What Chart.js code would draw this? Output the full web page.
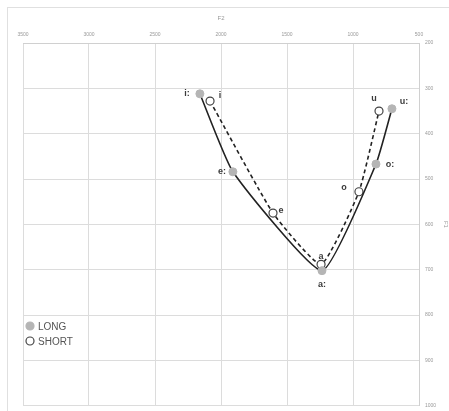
<!DOCTYPE html>
<html>
<head>
<meta charset="utf-8">
<script src="https://cdn.jsdelivr.net/npm/chart.js@4"></script>
<style>
html,body{margin:0;padding:0;background:#fff;}
#wrap{position:relative;width:449px;height:411px;}
</style>
</head>
<body>
<div id="wrap"><canvas id="c" width="449" height="411"></canvas></div>
<script>
// ---- data ----
const vowelsLong = ["i:", "e:", "a:", "o:", "u:"];
const longF2 = [2160, 1910, 1235, 826, 705];
const longF1 = [312, 484, 702, 467, 345];
const vowelsShort = ["i", "e", "a", "o", "u"];
const shortF2 = [2083, 1606, 1242, 955, 803];
const shortF1 = [328, 575, 688, 528, 350];
const f2Ticks = [3500, 3000, 2500, 2000, 1500, 1000, 500];
const f1Ticks = [200, 300, 400, 500, 600, 700, 800, 900, 1000];
const seriesNames = ["LONG", "SHORT"];

// label offsets (style, in px)
const longLabelOffsets = [[-13, 0], [-11, 0], [0, 14], [14, 0], [12, -7]];
const shortLabelOffsets = [[10, -6], [8, -3], [0, -8], [-15, -4], [-5, -13]];

const longPts = longF2.map((v, i) => ({x: v, y: longF1[i]}));
const shortPts = shortF2.map((v, i) => ({x: v, y: shortF1[i]}));

const frame = {
  id: 'frame',
  beforeDraw(chart) {
    const ctx = chart.ctx;
    ctx.save();
    ctx.fillStyle = '#fff';
    ctx.fillRect(0, 0, chart.width, chart.height);
    ctx.strokeStyle = '#e0e0e0';
    ctx.lineWidth = 1;
    ctx.strokeRect(7.5, 7.5, 445, 420);
    ctx.restore();
  }
};

const labels = {
  id: 'labels',
  afterDatasetsDraw(chart) {
    const ctx = chart.ctx;
    ctx.save();
    ctx.font = 'bold 9px "Liberation Sans", Arial, sans-serif';
    ctx.fillStyle = '#3a3a3a';
    ctx.textAlign = 'center';
    ctx.textBaseline = 'middle';
    const sets = [[0, vowelsLong, longLabelOffsets], [1, vowelsShort, shortLabelOffsets]];
    sets.forEach(([di, names, offs]) => {
      chart.getDatasetMeta(di).data.forEach((el, i) => {
        ctx.fillText(names[i], el.x + offs[i][0], el.y + offs[i][1]);
      });
    });
    // legend
    const a = chart.chartArea;
    const lx = a.left + 7, ly = a.top + 283;
    const ds = chart.data.datasets;
    ctx.font = '10px "Liberation Sans", Arial, sans-serif';
    ctx.textAlign = 'left';
    ds.forEach((d, i) => {
      const y = ly + i * 15;
      ctx.beginPath();
      ctx.arc(lx, y, 4, 0, Math.PI * 2);
      ctx.fillStyle = d.pointBackgroundColor;
      ctx.fill();
      ctx.lineWidth = 1.2;
      ctx.strokeStyle = d.pointBorderColor;
      ctx.stroke();
      ctx.fillStyle = '#555';
      ctx.fillText(d.label, lx + 8, y + 1);
    });
    ctx.restore();
  }
};

new Chart(document.getElementById('c'), {
  type: 'scatter',
  data: {
    datasets: [
      {
        label: seriesNames[0],
        data: longPts,
        showLine: true,
        borderColor: '#222',
        borderWidth: 1.6,
        tension: 0.15,
        pointRadius: 4,
        pointBackgroundColor: '#b5b5b5',
        pointBorderColor: '#b5b5b5',
        pointBorderWidth: 1
      },
      {
        label: seriesNames[1],
        data: shortPts,
        showLine: true,
        borderColor: '#222',
        borderWidth: 1.6,
        borderDash: [4, 3],
        tension: 0.15,
        pointRadius: 4,
        pointBackgroundColor: '#ffffff',
        pointBorderColor: '#444444',
        pointBorderWidth: 1.2
      }
    ]
  },
  options: {
    responsive: false,
    animation: false,
    layout: {padding: {left: 23, right: 0, top: 0, bottom: 5}},
    plugins: {legend: {display: false}, tooltip: {enabled: false}},
    scales: {
      x: {
        type: 'linear',
        position: 'top',
        reverse: true,
        min: 500, max: 3500,
        afterBuildTicks(s) { s.ticks = f2Ticks.map(v => ({value: v})); },
        afterFit(s) { s.height = 43; s.paddingLeft = 0; s.paddingRight = 0; },
        grid: {color: '#dcdcdc', drawTicks: false, lineWidth: 1},
        border: {color: '#d0d0d0'},
        ticks: {color: '#999', font: {size: 5, family: 'Liberation Sans'}, padding: 5, maxRotation: 0,
                callback: v => String(v)},
        title: {display: true, text: 'F2', color: '#999', font: {size: 6, family: 'Liberation Sans'}, padding: {top: 15, bottom: 0}}
      },
      y: {
        type: 'linear',
        position: 'right',
        reverse: true,
        min: 200, max: 1000,
        afterBuildTicks(s) { s.ticks = f1Ticks.map(v => ({value: v})); },
        afterFit(s) { s.width = 30; s.paddingTop = 0; s.paddingBottom = 0; },
        grid: {color: '#dcdcdc', drawTicks: false, lineWidth: 1},
        border: {color: '#d0d0d0'},
        ticks: {color: '#999', font: {size: 5, family: 'Liberation Sans'}, padding: 6,
                callback: v => String(v)},
        title: {display: true, text: 'F1', color: '#999', font: {size: 6, family: 'Liberation Sans'}, padding: 0}
      }
    }
  },
  plugins: [frame, labels]
});
</script>
</body>
</html>
